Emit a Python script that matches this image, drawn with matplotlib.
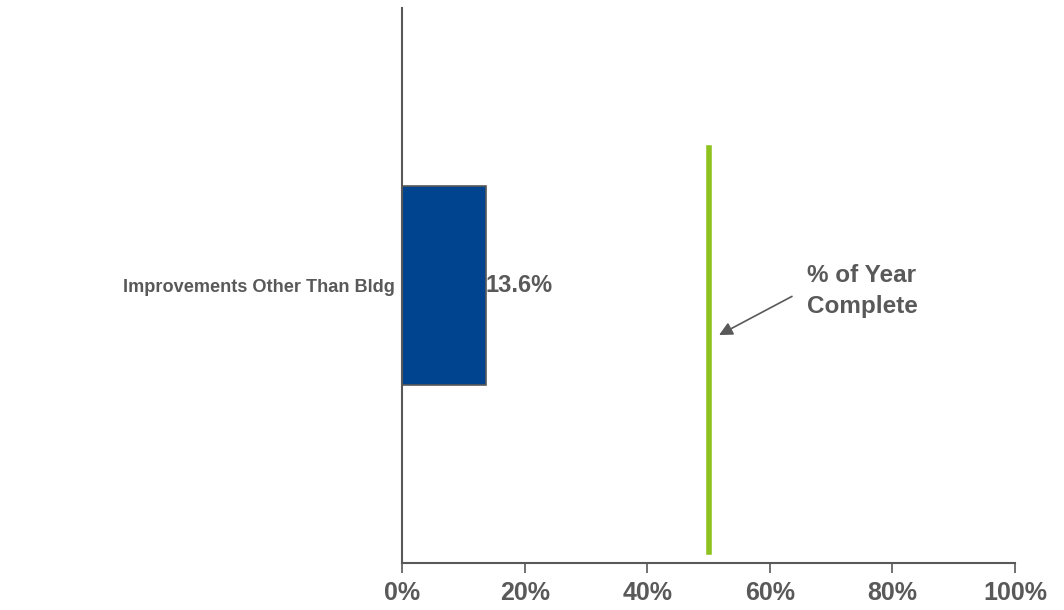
import matplotlib.pyplot as plt
import matplotlib.ticker as mtick

# -----------------------------
# Data
# -----------------------------
categories = ['Improvements Other Than Bldg']
values = [13.6]
year_complete = 50
x_ticks = [0, 20, 40, 60, 80, 100]

plt.rcParams['font.family'] = ['Liberation Sans', 'DejaVu Sans']
grey = '#595959'

# -----------------------------
# Plotting
# -----------------------------
fig = plt.figure(figsize=(10.64, 6.1), dpi=100)
ax = fig.add_axes([0.378, 0.077, 0.576, 0.910])

ax.barh(range(len(categories)), values, height=1.0, color='#00438F',
        edgecolor=grey, linewidth=1.2, zorder=2)

for i, v in enumerate(values):
    ax.text(v, i, f'{v:.1f}%', ha='left', va='center', fontsize=17,
            fontweight='bold', color=grey)

# Percent of year complete marker
ax.axvline(year_complete, ymin=0.02, ymax=0.748, color='#8DC21F', linewidth=4)
ax.text(66.1, 0.03, '% of Year\nComplete', fontsize=17.5, fontweight='bold',
        color=grey, ha='left', va='center', linespacing=1.45)
ax.annotate('', xy=(51.7, 0.25), xytext=(63.6, 0.055),
            arrowprops=dict(arrowstyle='-|>', color=grey, lw=1.2,
                            mutation_scale=20, shrinkA=0, shrinkB=0))

ax.set_xlim(0, 100)
ax.set_ylim(1.4, -1.4)
ax.set_xticks(x_ticks)
ax.xaxis.set_major_formatter(mtick.PercentFormatter(decimals=0))
ax.set_yticks(range(len(categories)))
ax.set_yticklabels(categories)

for side in ['top', 'right']:
    ax.spines[side].set_visible(False)
for side in ['left', 'bottom']:
    ax.spines[side].set_color(grey)
    ax.spines[side].set_linewidth(1.5)

ax.tick_params(axis='x', direction='out', length=7, width=1.2, color=grey,
               labelsize=18, labelcolor=grey, pad=6)
ax.tick_params(axis='y', length=0, labelsize=13.1, labelcolor=grey, pad=5)
for lbl in ax.get_xticklabels() + ax.get_yticklabels():
    lbl.set_fontweight('bold')

fig.savefig('out.png', dpi=100)
